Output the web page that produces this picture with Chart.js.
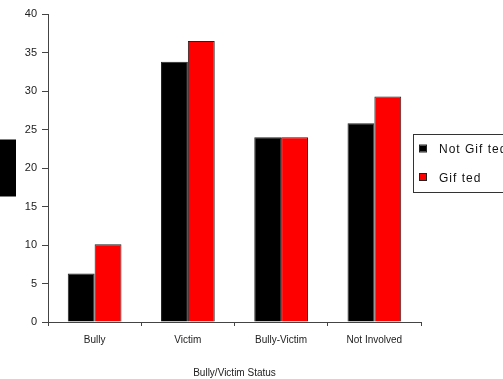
<!DOCTYPE html>
<html>
<head>
<meta charset="utf-8">
<script src="https://cdn.jsdelivr.net/npm/chart.js@4/dist/chart.umd.min.js"></script>
<style>
  html, body { margin: 0; padding: 0; background: #fff; }
  #wrap { width: 503px; height: 379px; position: relative; }
</style>
</head>
<body>
<div id="wrap"><canvas id="c" width="503" height="379"></canvas></div>
<script>
// Bully/victim status by giftedness (percent)
const categories = ['Bully', 'Victim', 'Bully-Victim', 'Not Involved'];
const notGifted = [6.3, 33.8, 24.0, 25.8];
const gifted = [10.1, 36.5, 24.0, 29.3];
const seriesNames = ['Not Gif ted', 'Gif ted'];
const seriesColors = ['#000000', '#ff0000'];
const yTicks = [0, 5, 10, 15, 20, 25, 30, 35, 40];

const FONT = '"Liberation Sans", Arial, sans-serif';

// Solid block standing in for the vertical axis caption
const axisBlock = {
  id: 'axisBlock',
  afterDraw(chart) {
    const { ctx, chartArea } = chart;
    const mid = (chartArea.top + chartArea.bottom) / 2;
    ctx.save();
    ctx.fillStyle = '#000';
    ctx.fillRect(0, mid - 28.5, 16, 57);
    ctx.restore();
  }
};

// Boxed legend to the right of the plot
const boxLegend = {
  id: 'boxLegend',
  afterDraw(chart) {
    const { ctx, chartArea } = chart;
    const x = chartArea.right - 8;
    const y = 134;
    ctx.save();
    ctx.fillStyle = '#fff';
    ctx.fillRect(x, y, 120, 58);
    ctx.strokeStyle = '#333';
    ctx.lineWidth = 1;
    ctx.strokeRect(x + 0.5, y + 0.5, 120, 58);
    ctx.font = '12px ' + FONT;
    ctx.letterSpacing = '1px';
    ctx.textBaseline = 'middle';
    chart.data.datasets.forEach((ds, i) => {
      const cy = y + 14.5 + i * 28.5;
      ctx.fillStyle = ds.backgroundColor;
      ctx.fillRect(x + 7, cy - 3, 6, 6);
      ctx.strokeStyle = '#222';
      ctx.strokeRect(x + 6.5, cy - 3.5, 7, 7);
      ctx.fillStyle = '#111';
      ctx.fillText(ds.label, x + 26, cy + 1.5);
    });
    ctx.restore();
  }
};

new Chart(document.getElementById('c'), {
  type: 'bar',
  data: {
    labels: categories,
    datasets: [
      { label: seriesNames[0], data: notGifted, backgroundColor: seriesColors[0], borderColor: '#222', borderWidth: 1 },
      { label: seriesNames[1], data: gifted, backgroundColor: seriesColors[1], borderColor: '#222', borderWidth: 1 }
    ]
  },
  options: {
    responsive: false,
    animation: false,
    devicePixelRatio: 1,
    layout: { padding: { left: 0, right: 82, top: 14, bottom: 0 } },
    datasets: { bar: { categoryPercentage: 0.576, barPercentage: 1 } },
    plugins: {
      legend: { display: false },
      tooltip: { enabled: false }
    },
    scales: {
      x: {
        grid: { display: true, drawOnChartArea: false, drawTicks: true, tickLength: 4, color: '#444', offset: true },
        border: { display: true, color: '#444', width: 1 },
        ticks: { font: { family: FONT, size: 10 }, color: '#222', padding: 8, maxRotation: 0 },
        title: { display: true, text: 'Bully/Victim Status', font: { family: FONT, size: 10 }, color: '#222', padding: { top: 0, bottom: 0 } },
        afterFit(scale) { scale.height = 57; }
      },
      y: {
        min: 0,
        max: 40,
        afterBuildTicks(scale) { scale.ticks = yTicks.map(v => ({ value: v })); },
        grid: { display: true, drawOnChartArea: false, drawTicks: true, tickLength: 6, color: '#444' },
        border: { display: true, color: '#444', width: 1 },
        ticks: { font: { family: FONT, size: 11 }, color: '#222', padding: 5 },
        afterFit(scale) { scale.width = 48; }
      }
    }
  },
  plugins: [axisBlock, boxLegend]
});
</script>
</body>
</html>
